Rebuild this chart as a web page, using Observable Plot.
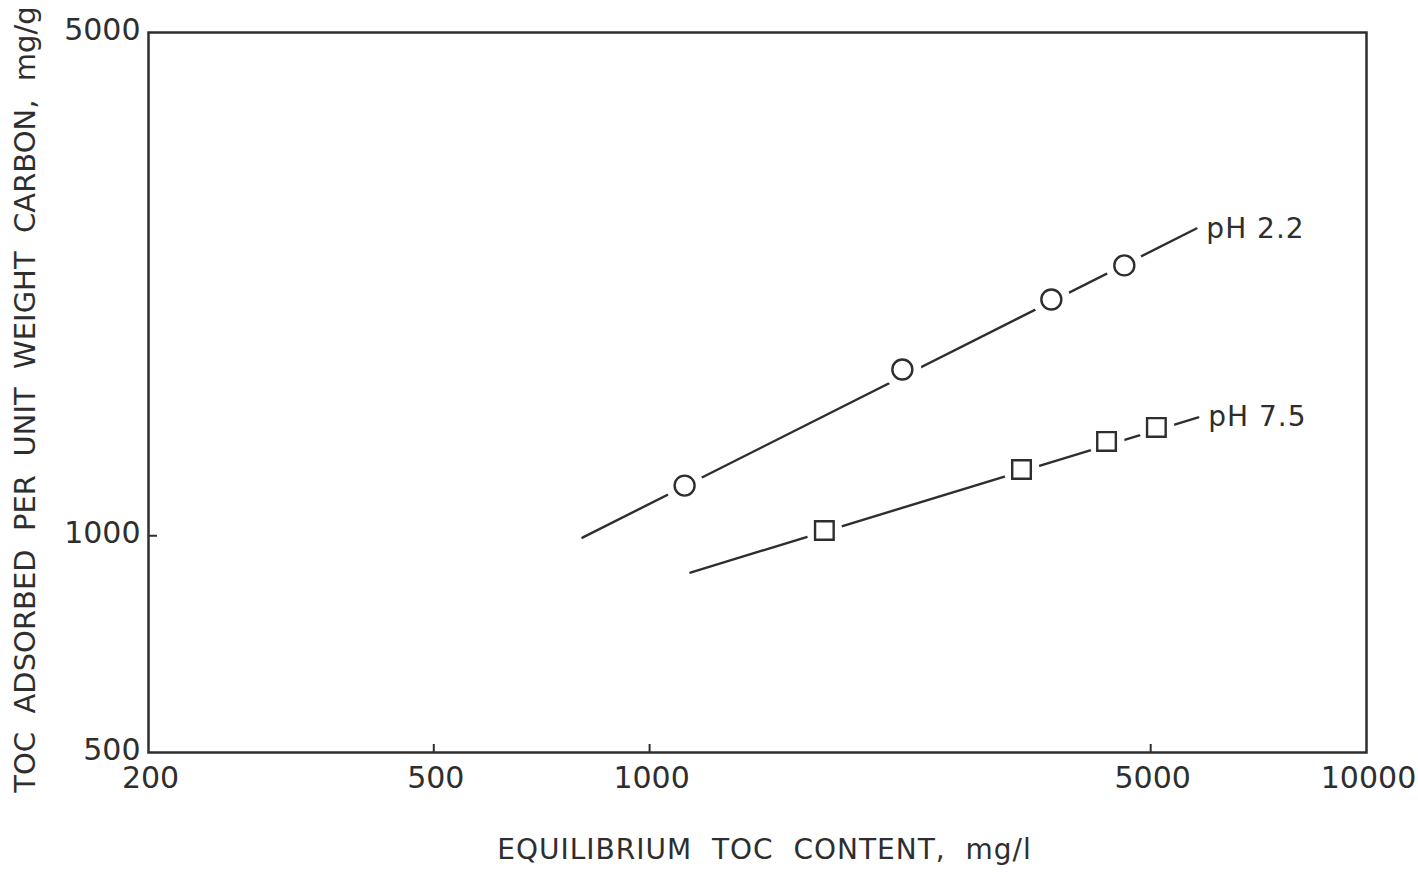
<!DOCTYPE html>
<html>
<head>
<meta charset="utf-8">
<script src="https://cdn.jsdelivr.net/npm/d3@7"></script>
<script src="https://cdn.jsdelivr.net/npm/@observablehq/plot@0.6"></script>
<style>
  html, body { margin: 0; padding: 0; background: #ffffff; }
  #chart { width: 1418px; height: 872px; }
</style>
</head>
<body>
<div id="chart"></div>
<script>
// ---- data ----
const xTicks = [200, 500, 1000, 5000, 10000];
const xInnerTicks = [500, 1000, 5000];
const yTicks = [500, 1000, 5000];
const yInnerTicks = [1000];

const seriesNames = ["pH 2.2", "pH 7.5"];
// measured points
const ph22X = [1119, 2252, 3634, 4594];
const ph22Y = [1174, 1702, 2129, 2374];
const ph75X = [1753, 3302, 4339, 5092];
const ph75Y = [1017, 1236, 1352, 1414];
// fitted isotherm lines (end points)
const fit22X = [806, 5790];
const fit22Y = [994, 2671];
const fit75X = [1140, 5826];
const fit75Y = [889, 1460];

const xTitle = "EQUILIBRIUM  TOC  CONTENT,  mg/l";
const yTitle = "TOC  ADSORBED  PER  UNIT  WEIGHT  CARBON,  mg/g";

// ---- tables built from the arrays ----
const pts22 = ph22X.map((x, i) => ({x, y: ph22Y[i], s: seriesNames[0]}));
const pts75 = ph75X.map((x, i) => ({x, y: ph75Y[i], s: seriesNames[1]}));
const line22 = fit22X.map((x, i) => ({x, y: fit22Y[i], s: seriesNames[0]}));
const line75 = fit75X.map((x, i) => ({x, y: fit75Y[i], s: seriesNames[1]}));
const lineLabels = [
  {x: fit22X[1], y: fit22Y[1], text: seriesNames[0]},
  {x: fit75X[1], y: fit75Y[1], text: seriesNames[1]}
];

const ink = "#2e2e2e";
const W = 1418, H = 872;
const mL = 148, mR = 52, mT = 32, mB = 120;
const innerW = W - mL - mR, innerH = H - mT - mB;

const chart = Plot.plot({
  width: W,
  height: H,
  marginLeft: mL,
  marginRight: mR,
  marginTop: mT,
  marginBottom: mB,
  style: {fontFamily: "'DejaVu Sans', sans-serif", background: "#ffffff", color: ink},
  x: {type: "log", domain: [200, 10000]},
  y: {type: "log", domain: [500, 5000]},
  marks: [
    Plot.frame({stroke: ink, strokeWidth: 2.5}),
    // inward tick marks
    Plot.ruleX(xInnerTicks, {x: d => d, stroke: ink, strokeWidth: 2, insetTop: innerH - 8}),
    Plot.ruleY(yInnerTicks, {y: d => d, stroke: ink, strokeWidth: 2, insetRight: innerW - 9}),
    // tick labels
    Plot.axisX(xTicks, {tickSize: 0, tickPadding: 14, dx: 2, fontSize: 30, tickFormat: d => String(d), label: null, fill: ink}),
    Plot.axisY(yTicks, {tickSize: 0, tickPadding: 8, dy: -2, fontSize: 30, tickFormat: d => String(d), label: null, fill: ink}),
    // fitted lines
    Plot.line(line22, {x: "x", y: "y", stroke: ink, strokeWidth: 2.4}),
    Plot.line(line75, {x: "x", y: "y", stroke: ink, strokeWidth: 2.4}),
    // white gaps around markers
    Plot.dot(pts22, {x: "x", y: "y", r: 19, fill: "#ffffff"}),
    Plot.dot(pts75, {x: "x", y: "y", r: 18, fill: "#ffffff"}),
    // markers
    Plot.dot(pts22, {x: "x", y: "y", r: 10, symbol: "circle", fill: "#ffffff", stroke: ink, strokeWidth: 2.4}),
    Plot.dot(pts75, {x: "x", y: "y", r: 10.5, symbol: "square", fill: "#ffffff", stroke: ink, strokeWidth: 2.4}),
    // series labels
    Plot.text(lineLabels, {x: "x", y: "y", text: "text", textAnchor: "start", dx: 10, fontSize: 28, fill: ink}),
    // axis titles
    Plot.text([xTitle], {frameAnchor: "bottom", textAnchor: "middle", lineAnchor: "middle", dy: 98, dx: 7, text: d => d, fontSize: 28, fill: ink}),
    Plot.text([yTitle], {frameAnchor: "left", textAnchor: "middle", lineAnchor: "middle", dx: -123, dy: 7, rotate: -90, text: d => d, fontSize: 29, fill: ink})
  ]
});
// slightly wider lettering for the hand-lettered titles and series labels
d3.select(chart).selectAll("text").each(function() {
  const t = this.textContent;
  if (t === xTitle || seriesNames.includes(t)) this.style.letterSpacing = "1px";
});
document.getElementById("chart").appendChild(chart);
</script>
</body>
</html>
